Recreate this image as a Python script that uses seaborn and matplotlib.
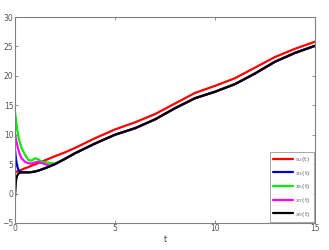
import matplotlib
matplotlib.use("Agg")
import matplotlib.pyplot as plt
import seaborn as sns
import pandas as pd

t = [0, 0.05, 0.1, 0.17, 0.25, 0.33, 0.5, 0.67, 0.83, 1.0, 1.17, 1.33, 1.5, 1.75, 2.0,
     2.5, 3, 4, 5, 6, 7, 8, 9, 10, 11, 12, 13, 14, 15]

s2 = [3.6, 3.65, 3.75, 3.85, 3.95, 4.05, 4.3, 4.5, 4.75, 4.95, 5.2, 5.4, 5.65, 6.0, 6.35,
      7.0, 7.75, 9.4, 10.9, 12.1, 13.5, 15.3, 17.1, 18.3, 19.6, 21.4, 23.2, 24.6, 25.8]
x9 = [-0.5, 2.2, 3.0, 3.4, 3.55, 3.6, 3.6, 3.6, 3.65, 3.75, 3.9, 4.1, 4.3, 4.65, 5.0,
      5.9, 6.85, 8.5, 10.0, 11.1, 12.6, 14.5, 16.2, 17.3, 18.6, 20.4, 22.4, 23.9, 25.1]
x3 = [7.4, 5.8, 4.8, 4.0, 3.7, 3.6, 3.6, 3.6, 3.65, 3.75, 3.9, 4.1, 4.3, 4.65, 5.0,
      5.9, 6.85, 8.5, 10.0, 11.1, 12.6, 14.5, 16.2, 17.3, 18.6, 20.4, 22.4, 23.9, 25.1]
x7 = [10.2, 9.2, 8.4, 7.4, 6.6, 6.0, 5.4, 5.15, 5.1, 5.3, 5.4, 5.2, 5.0, 4.75, 5.0,
      5.9, 6.85, 8.5, 10.0, 11.1, 12.6, 14.5, 16.2, 17.3, 18.6, 20.4, 22.4, 23.9, 25.1]
x5 = [13.9, 12.5, 11.1, 9.7, 8.6, 7.7, 6.6, 5.7, 5.6, 6.0, 5.8, 5.4, 5.35, 5.2, 5.1,
      5.9, 6.85, 8.5, 10.0, 11.1, 12.6, 14.5, 16.2, 17.3, 18.6, 20.4, 22.4, 23.9, 25.1]

labels = ["s$_2$(t)", "x$_3$(t)", "x$_5$(t)", "x$_7$(t)", "x$_9$(t)"]
colors = ["#ff0000", "#0000cc", "#00ee00", "#ff00ff", "#000000"]
series = [s2, x3, x5, x7, x9]

sns.set_style("white")
plt.rcParams['font.family'] = ['DejaVu Sans']

fig = plt.figure(figsize=(3.29, 2.5), dpi=100)
ax = fig.add_axes([0.0456, 0.108, 0.9118, 0.824])

for lab, col, ys in zip(labels, colors, series):
    df = pd.DataFrame({"t": t, "v": ys})
    sns.lineplot(data=df, x="t", y="v", ax=ax, color=col, lw=1.6, label=lab)

ax.set_xlim(0, 15)
ax.set_ylim(-5, 30)
ax.set_xticks([0, 5, 10, 15])
ax.set_yticks([-5, 0, 5, 10, 15, 20, 25, 30])
ax.set_xlabel("t", fontsize=5.5, labelpad=1, color="#333333")
ax.set_ylabel("")
for sp in ax.spines.values():
    sp.set_color("#808080")
    sp.set_linewidth(0.8)
ax.tick_params(direction="in", length=2.5, width=0.6, colors="#808080",
               labelsize=5.5, labelcolor="#555555", pad=1,
               top=True, right=True, left=True, bottom=True)

leg = ax.legend(loc="lower right", fontsize=4.5, frameon=True, fancybox=False,
                handlelength=3.2, borderpad=0.5, labelspacing=0.75,
                handletextpad=0.4, borderaxespad=0.2)
leg.get_frame().set_edgecolor("#808080")
leg.get_frame().set_linewidth(0.6)
for txt in leg.get_texts():
    txt.set_color("#666666")

fig.savefig("out.png", dpi=100)
